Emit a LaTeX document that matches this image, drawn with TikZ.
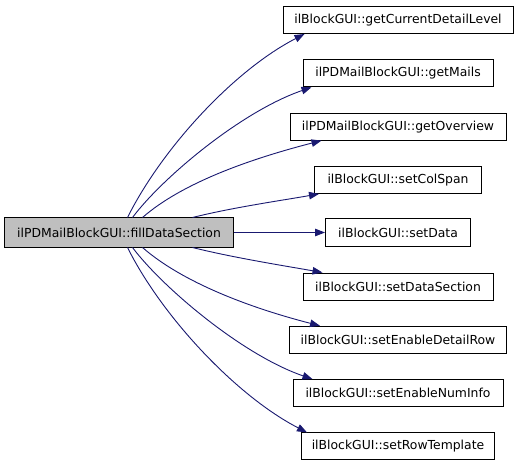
\documentclass[tikz,border=0pt]{standalone}
\usepackage{fontspec}
\setmainfont{DejaVu Sans}
\usetikzlibrary{arrows.meta}
\definecolor{edgeblue}{HTML}{191970}
\definecolor{srcgray}{HTML}{BFBFBF}
\tikzset{
  fnbox/.style={draw=black, line width=1bp, fill=white, minimum height=27bp, inner sep=0pt,
    font=\fontsize{12.4bp}{14bp}\selectfont},
  srcbox/.style={fnbox, fill=srcgray, minimum height=29bp},
  callarrow/.style={draw=edgeblue, line width=0.9bp, -{Triangle[length=10bp,width=7.5bp]}},
}
\begin{document}
\begin{tikzpicture}[x=1bp,y=-1bp]
\useasboundingbox (0,0) rectangle (520,467);
\node[srcbox, minimum width=228bp] (s) at (119,232.5) {ilPDMailBlockGUI::fillDataSection};
\node[fnbox, minimum width=230bp] (t1) at (398,20) {ilBlockGUI::getCurrentDetailLevel};
\node[fnbox, minimum width=190bp] (t2) at (398,73.3) {ilPDMailBlockGUI::getMails};
\node[fnbox, minimum width=216bp] (t3) at (398,126.6) {ilPDMailBlockGUI::getOverview};
\node[fnbox, minimum width=167bp] (t4) at (398,179.9) {ilBlockGUI::setColSpan};
\node[fnbox, minimum width=145bp] (t5) at (398,232.5) {ilBlockGUI::setData};
\node[fnbox, minimum width=190bp] (t6) at (398,286.5) {ilBlockGUI::setDataSection};
\node[fnbox, minimum width=217bp] (t7) at (398,339.8) {ilBlockGUI::setEnableDetailRow};
\node[fnbox, minimum width=210bp] (t8) at (398,393.1) {ilBlockGUI::setEnableNumInfo};
\node[fnbox, minimum width=193bp] (t9) at (398,446.4) {ilBlockGUI::setRowTemplate};

\draw[callarrow] ([xshift=123bp]s.north west) .. controls +(35,-70) and +(-70,36) .. ([xshift=22bp]t1.south west);
\draw[callarrow] ([xshift=128bp]s.north west) .. controls +(30,-40) and +(-70,24) .. ([xshift=9bp]t2.south west);
\draw[callarrow] ([xshift=138bp]s.north west) .. controls +(40,-35) and +(-70,18) .. ([xshift=32bp]t3.south west);
\draw[callarrow] ([xshift=188bp]s.north west) .. controls +(40,-10) and +(-40,7) .. ([xshift=5bp]t4.south west);
\draw[callarrow] (s.east) -- (t5.west);
\draw[callarrow] ([xshift=188bp]s.south west) .. controls +(40,10) and +(-40,-7) .. ([xshift=20bp]t6.north west);
\draw[callarrow] ([xshift=138bp]s.south west) .. controls +(40,35) and +(-70,-18) .. ([xshift=31bp]t7.north west);
\draw[callarrow] ([xshift=128bp]s.south west) .. controls +(30,40) and +(-70,-24) .. ([xshift=20bp]t8.north west);
\draw[callarrow] ([xshift=123bp]s.south west) .. controls +(35,70) and +(-70,-36) .. ([xshift=6bp]t9.north west);
\end{tikzpicture}
\end{document}
